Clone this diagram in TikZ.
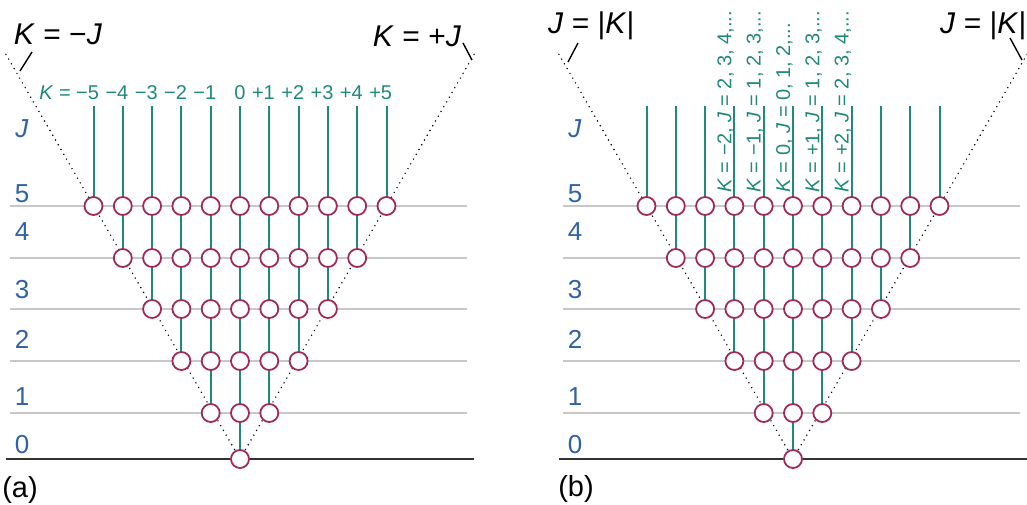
\documentclass[tikz,border=0pt]{standalone}
\usepackage{fontspec}
\setmainfont{Liberation Sans}
\definecolor{tealc}{HTML}{1F8A7C}
\definecolor{crim}{HTML}{A02A5C}
\definecolor{bluec}{HTML}{2F62A6}
\definecolor{grayc}{HTML}{C8C8C8}
\definecolor{axisc}{HTML}{333333}
\pgfdeclarelayer{bg}
\pgfsetlayers{bg,main}
\begin{document}
\begin{tikzpicture}[x=1pt,y=-1pt,
  circ/.style={circle, draw=crim, fill=white, line width=1.8pt, minimum size=18pt, inner sep=0pt},
  tealline/.style={draw=tealc, line width=2pt},
  grayline/.style={draw=grayc, line width=1.8pt},
  axisline/.style={draw=axisc, line width=2pt},
  dotline/.style={draw=black, line width=1.6pt, dash pattern=on 0pt off 5.5pt, line cap=round},
  tickline/.style={draw=black, line width=1.4pt},
  lev/.style={text=bluec, font=\fontsize{26}{26}\selectfont, inner sep=0pt},
  klab/.style={text=tealc, font=\fontsize{20}{20}\selectfont, inner sep=0pt},
  big/.style={text=black, font=\fontsize{30}{30}\selectfont, inner sep=0pt},
  plab/.style={text=black, font=\fontsize{29}{29}\selectfont, inner sep=0pt}
]
\path[use as bounding box] (0,0) rectangle (1027,505);

% circles
\foreach \p/\ox in {a/240,b/793}{
  \foreach \J/\y in {0/459,1/413,2/361,3/309,4/258,5/206}{
    \pgfmathtruncatemacro\Km{-\J}
    \foreach \K in {\Km,...,\J}{
      \pgfmathtruncatemacro\idx{\K+5}
      \node[circ] (\p\J-\idx) at ({\ox+29.3*\K},\y) {};
    }
  }
  % level labels
  \foreach \J/\yb in {0/453,1/405,2/348,3/298,4/240,5/202}{
    \node[lev, anchor=base] (\p lev\J) at ({\ox-218},\yb) {\J};
  }
  \node[lev, anchor=base] (\p levJ) at ({\ox-218},138) {\textit{J}};
  % coordinates
  \foreach \J/\y in {1/413,2/361,3/309,4/258,5/206}{
    \coordinate (\p gl\J) at ({\ox-230},\y);
    \coordinate (\p gr\J) at ({\ox+227},\y);
  }
  \coordinate (\p al) at ({\ox-234},459);
  \coordinate (\p ar) at ({\ox+234},459);
  \coordinate (\p dl) at ({\ox-236},51);
  \coordinate (\p dr) at ({\ox+236},51);
  \foreach \idx in {0,...,10}{
    \coordinate (\p top\idx) at ({\ox+29.3*(\idx-5)},106);
  }
  \begin{pgfonlayer}{bg}
    \foreach \J in {1,...,5}{
      \draw[grayline] (\p gl\J) -- (\p gr\J);
    }
    \draw[axisline] (\p al) -- (\p ar);
    \draw[dotline] (\p0-5.center) -- (\p dl);
    \draw[dotline] (\p0-5.center) -- (\p dr);
    \foreach \idx in {0,...,10}{
      \pgfmathtruncatemacro\aK{abs(\idx-5)}
      \draw[tealline] (\p top\idx) -- (\p\aK-\idx.center);
    }
  \end{pgfonlayer}
}

% top K labels (a)
\foreach \idx/\t in {0/{\llap{\textit{K} = −}5},1/{\llap{−}4},2/{\llap{−}3},3/{\llap{−}2},4/{\llap{−}1},5/{0},6/{\llap{+}1},7/{\llap{+}2},8/{\llap{+}3},9/{\llap{+}4},10/{\llap{+}5}}{
  \node[klab, anchor=base] (kl\idx) at ({240+29.3*(\idx-5)},100) {\t};
}

% rotated labels (b)
\foreach \idx/\t in {3/{\textit{K} = −2, \textit{J} = 2, 3, 4,...},4/{\textit{K} = −1, \textit{J} = 1, 2, 3,...},5/{\textit{K} = 0, \textit{J} = 0, 1, 2,...},6/{\textit{K} = +1, \textit{J} = 1, 2, 3,...},7/{\textit{K} = +2, \textit{J} = 2, 3, 4,...}}{
  \node[klab, rotate=90, anchor=base west] (rl\idx) at ({793+29.3*(\idx-5)-3},193) {\t};
}

% big labels
\node[big, anchor=base] (kmj) at (58,45) {\textit{K} = −\textit{J}};
\node[big, anchor=base] (kpj) at (417,47) {\textit{K} = +\textit{J}};
\node[big, anchor=base west] (jkl) at (548,34) {\textit{J} = |\textit{K}|};
\node[big, anchor=base west] (jkr) at (940,34) {\textit{J} = |\textit{K}|};
\coordinate (t1a) at (32,52); \coordinate (t1b) at (20,71);
\coordinate (t2a) at (463,43); \coordinate (t2b) at (472,60);
\coordinate (t3a) at (578,43); \coordinate (t3b) at (568,62);
\coordinate (t4a) at (1010,38); \coordinate (t4b) at (1022,60);
\draw[tickline] (t1a) -- (t1b);
\draw[tickline] (t2a) -- (t2b);
\draw[tickline] (t3a) -- (t3b);
\draw[tickline] (t4a) -- (t4b);

\node[plab] (pa) at (20,490) {(a)};
\node[plab] (pb) at (576,489) {(b)};
\end{tikzpicture}
\end{document}
